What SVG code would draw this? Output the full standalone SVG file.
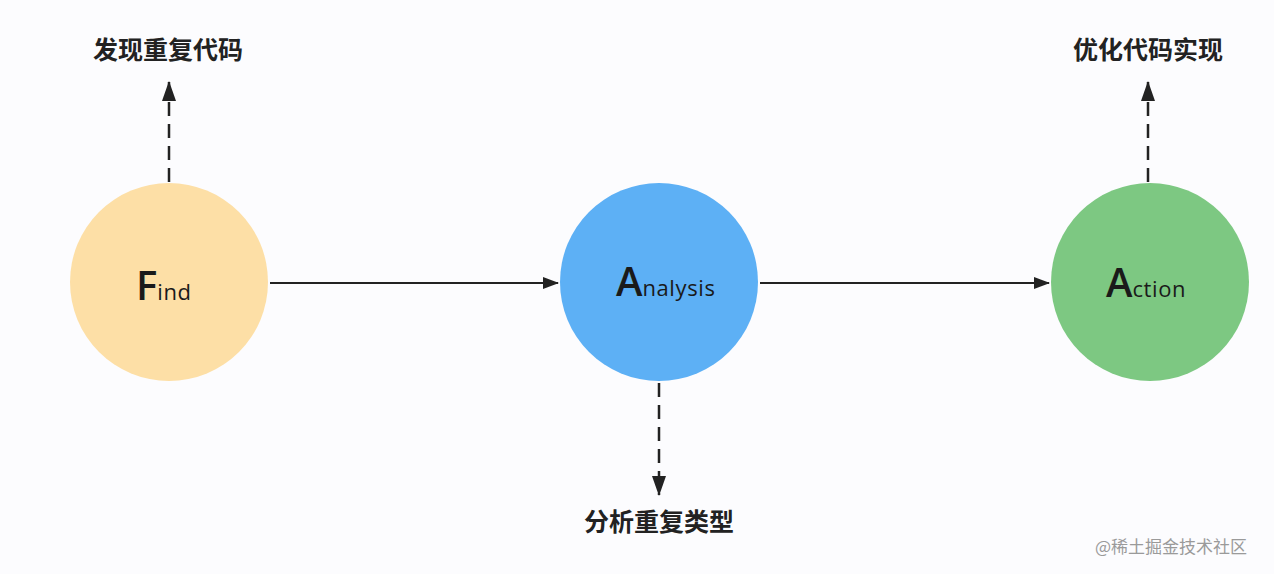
<svg xmlns="http://www.w3.org/2000/svg" width="1274" height="574" viewBox="0 0 1274 574">
<defs>
<marker id="ah" viewBox="0 0 16 12" refX="15" refY="6" markerWidth="16" markerHeight="12" markerUnits="userSpaceOnUse" orient="auto">
<path d="M0,0 L16,6 L0,12 Z" fill="#222"/>
</marker>
<marker id="ah2" viewBox="0 0 20 14" refX="19" refY="7" markerWidth="20" markerHeight="14" markerUnits="userSpaceOnUse" orient="auto">
<path d="M0,0 L20,7 L0,14 Z" fill="#222"/>
</marker>
<style>
.solid{stroke:#222;stroke-width:2;fill:none}
.dash{stroke:#222;stroke-width:2.5;fill:none;stroke-dasharray:14 8}
.lbl{font-family:"Noto Sans CJK SC","Noto Sans",sans-serif;font-size:25px;font-weight:bold;fill:#222;text-anchor:middle}
.big{font-family:"Open Sans","Noto Sans",sans-serif;font-size:40px;font-weight:600;fill:#1a1a1a}
.small{font-family:"Open Sans","Noto Sans",sans-serif;font-size:22px;letter-spacing:0.6px;fill:#1a1a1a}
.wm{font-family:"Noto Sans CJK SC",sans-serif;font-size:17px;fill:#9a9a9a}
</style>
</defs>
<rect width="1274" height="574" fill="#fcfcfe"/>
<g id="connectors">
<line class="solid" x1="270" y1="283" x2="558" y2="283" marker-end="url(#ah)"/>
<line class="solid" x1="760" y1="283" x2="1049" y2="283" marker-end="url(#ah)"/>
<line class="dash" x1="169" y1="182" x2="169" y2="82" marker-end="url(#ah2)"/>
<line class="dash" x1="659" y1="383" x2="659" y2="495" marker-end="url(#ah2)"/>
<line class="dash" x1="1148" y1="182" x2="1148" y2="82" marker-end="url(#ah2)"/>
</g>
<g id="find">
<circle cx="169" cy="282" r="99" fill="#fddfa6"/>
<text x="136" y="300"><tspan class="big">F</tspan><tspan class="small">ind</tspan></text>
</g>
<g id="analysis">
<circle cx="659" cy="282" r="99" fill="#5db0f5"/>
<text x="616" y="296"><tspan class="big">A</tspan><tspan class="small">nalysis</tspan></text>
</g>
<g id="action">
<circle cx="1150" cy="282" r="99" fill="#7dc882"/>
<text x="1106" y="297"><tspan class="big">A</tspan><tspan class="small">ction</tspan></text>
</g>
<g id="label-find"><text class="lbl" x="168" y="59">发现重复代码</text></g>
<g id="label-analysis"><text class="lbl" x="659" y="531">分析重复类型</text></g>
<g id="label-action"><text class="lbl" x="1148" y="59">优化代码实现</text></g>
<g id="watermark"><text class="wm" x="1095" y="553">@稀土掘金技术社区</text></g>
</svg>
